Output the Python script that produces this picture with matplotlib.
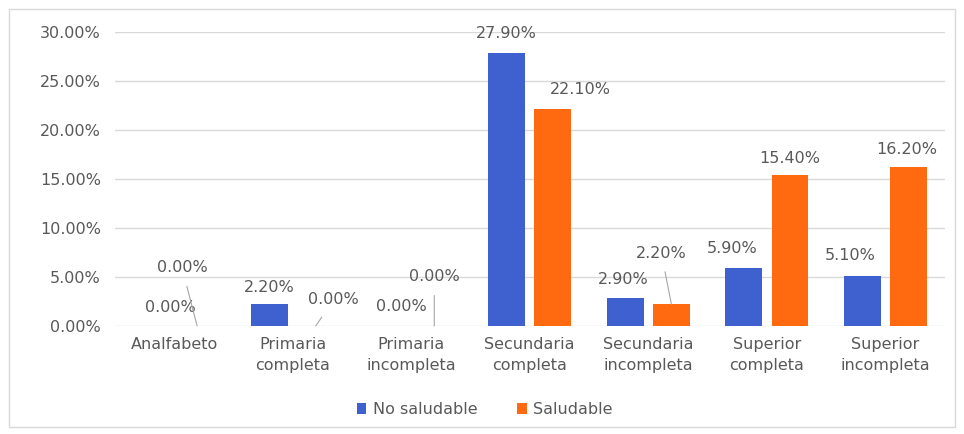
import matplotlib.pyplot as plt
from matplotlib.patches import Rectangle
import numpy as np

# DATI
categorie = ["Analfabeto", "Primaria\ncompleta", "Primaria\nincompleta",
             "Secundaria\ncompleta", "Secundaria\nincompleta",
             "Superior\ncompleta", "Superior\nincompleta"]
no_saludable = [0.0, 2.2, 0.0, 27.9, 2.9, 5.9, 5.1]
saludable = [0.0, 0.0, 0.0, 22.1, 2.2, 15.4, 16.2]
serie_nomi = ["No saludable", "Saludable"]
y_ticks = [0, 5, 10, 15, 20, 25, 30]

# spostamento etichette (pixel) e linee guida
off_blu = [(19, 18), (0, 17), (13, 19), (0, 19), (-2, 18), (-12, 20), (-12, 20)]
off_ara = [(-15, 58), (18, 26), (0, 49), (28, 20), (-10, 51), (0, 17), (-2, 18)]
guida_ara = [True, True, True, False, True, False, False]

GRIGIO = "#595959"
BLU = "#3F61CF"
ARANCIO = "#FF6A10"
FS = 11.5

plt.rcParams['font.family'] = ['DejaVu Sans']

fig = plt.figure(figsize=(9.64, 4.34), dpi=100)
ax = fig.add_axes([0.119, 0.249, 0.861, 0.677])

x = np.arange(len(categorie))
w = 0.31
d = 0.195
b1 = ax.bar(x - d, no_saludable, w, color=BLU, label=serie_nomi[0], zorder=3)
b2 = ax.bar(x + d, saludable, w, color=ARANCIO, label=serie_nomi[1], zorder=3)

def etichetta(xc, v, off, guida):
    arrow = None
    if guida:
        arrow = dict(arrowstyle='-', color='#A6A6A6', lw=0.8, shrinkA=6, shrinkB=0)
    ax.annotate(f"{v:.2f}%", xy=(xc, v), xytext=off, textcoords='offset pixels',
                ha='center', va='center', fontsize=FS, color=GRIGIO,
                arrowprops=arrow, zorder=4)

for i in range(len(categorie)):
    etichetta(x[i] - d, no_saludable[i], off_blu[i], False)
    etichetta(x[i] + d, saludable[i], off_ara[i], guida_ara[i])

ax.set_xlim(-0.5, len(categorie) - 0.5)
ax.set_ylim(0, 30)
ax.set_yticks(y_ticks)
ax.set_yticklabels([f"{t:.2f}%" for t in y_ticks], fontsize=FS, color=GRIGIO)
ax.set_xticks(x)
ax.set_xticklabels(categorie, fontsize=FS, color=GRIGIO, linespacing=1.5)
ax.tick_params(length=0, pad=10)
ax.tick_params(axis='x', pad=8)
ax.grid(axis='y', color='#D9D9D9', lw=1, zorder=0)
for s in ax.spines.values():
    s.set_visible(False)

ax.legend(loc='center', bbox_to_anchor=(0.446, -0.285), ncol=2, frameon=False,
          fontsize=FS, labelcolor=GRIGIO, handlelength=0.6, handleheight=0.6,
          columnspacing=2.5, handletextpad=0.4)

# cornice
fig.patches.append(Rectangle((0.009, 0.017), 0.982, 0.962, transform=fig.transFigure,
                             fill=False, edgecolor='#D9D9D9', lw=1))

plt.savefig("out.png", dpi=100)
